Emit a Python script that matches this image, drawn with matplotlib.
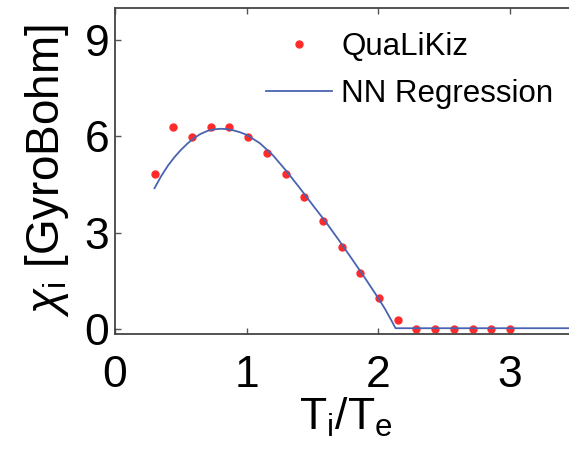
import matplotlib
matplotlib.use("Agg")
import matplotlib.pyplot as plt

plt.rcParams["font.family"] = ["Liberation Sans", "DejaVu Sans"]
plt.rcParams["mathtext.fontset"] = "custom"
plt.rcParams["mathtext.rm"] = "Liberation Sans"
plt.rcParams["mathtext.it"] = "Liberation Sans:italic"

# QuaLiKiz points
qlk_x = [0.300, 0.442, 0.584, 0.726, 0.868, 1.011, 1.153, 1.295, 1.437, 1.579,
         1.721, 1.863, 2.005, 2.147, 2.289, 2.432, 2.574, 2.716, 2.858, 3.000]
qlk_y = [4.83, 6.28, 5.99, 6.31, 6.31, 5.99, 5.49, 4.83, 4.11, 3.36,
         2.56, 1.75, 0.98, 0.28, 0.0, 0.0, 0.0, 0.0, 0.0, 0.0]

# NN regression curve
nn_x = [0.30, 0.35, 0.40, 0.45, 0.50, 0.55, 0.60, 0.65, 0.70, 0.75, 0.80, 0.85,
        0.90, 0.95, 1.00, 1.10, 1.20, 1.30, 1.40, 1.50, 1.60, 1.70, 1.80, 1.90,
        2.00, 2.05, 2.10, 2.13, 2.50, 3.00, 3.50]
nn_y = [4.39, 4.76, 5.08, 5.35, 5.58, 5.78, 5.95, 6.08, 6.17, 6.22, 6.24, 6.23,
        6.19, 6.13, 6.05, 5.79, 5.41, 4.93, 4.41, 3.87, 3.34, 2.77, 2.18, 1.58,
        0.96, 0.63, 0.26, 0.03, 0.03, 0.03, 0.03]

fig = plt.figure(figsize=(5.69, 4.59), dpi=100)
ax = fig.add_axes([115 / 569, 125 / 459, 461 / 569, 326 / 459])

ax.plot(qlk_x, qlk_y, ".", color="#ff2a2a", markersize=10, label="QuaLiKiz")
ax.plot(nn_x, nn_y, "-", color="#4a63b0", lw=1.3, label="NN Regression")

ax.set_xlim(0, 3.5)
ax.set_ylim(-0.15, 10)
ax.set_xticks([0, 1, 2, 3])
ax.set_yticks([0, 3, 6, 9])
ax.tick_params(direction="in", length=4, width=1, colors="#555555",
               labelcolor="black", labelsize=32, top=True, right=True)
ax.tick_params(axis="x", pad=15)
ax.tick_params(axis="y", pad=4)
for s in ax.spines.values():
    s.set_color("#444444")
    s.set_linewidth(1.3)

ax.set_xlabel(r"T$_{\rm i}$/T$_{\rm e}$", fontsize=32, labelpad=0)
ax.set_ylabel(r"$\chi_{\rm i}$ [GyroBohm]", fontsize=33, labelpad=10)

ax.legend(loc="upper left", bbox_to_anchor=(142 / 461, 0.955), frameon=False,
          fontsize=22.5, handlelength=2.1, handletextpad=0.3, borderpad=0.3,
          labelspacing=0.55, borderaxespad=0)

fig.savefig("out.png", dpi=100)
